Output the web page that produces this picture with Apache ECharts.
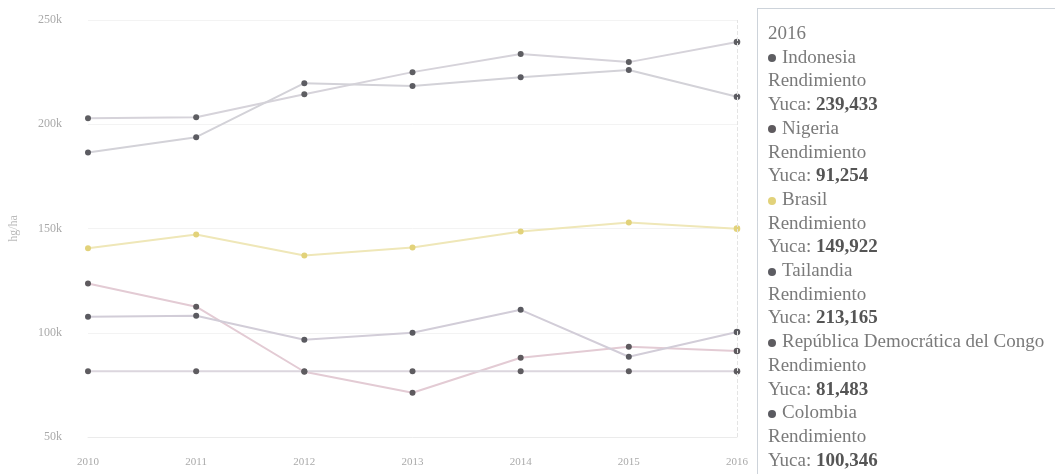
<!DOCTYPE html>
<html>
<head>
<meta charset="utf-8">
<script src="https://cdn.jsdelivr.net/npm/echarts@6/dist/echarts.min.js"></script>
<style>
  html, body { margin: 0; padding: 0; background: #fff; overflow: hidden; }
  #chart-container { width: 1055px; height: 474px; }
</style>
</head>
<body>
<div id="chart-container"></div>
<script>
var years = ['2010', '2011', '2012', '2013', '2014', '2015', '2016'];
var yTicks = [50000, 100000, 150000, 200000, 250000];

// rendimiento de yuca, hg/ha
var indonesia = [202900, 203400, 214400, 225000, 233700, 229800, 239433];
var nigeria = [123600, 112500, 81300, 71200, 88000, 93300, 91254];
var brasil = [140500, 147100, 137000, 140900, 148600, 152900, 149922];
var tailandia = [186500, 193800, 219700, 218300, 222600, 226000, 213165];
var rdc = [81483, 81483, 81483, 81483, 81483, 81483, 81483];
var colombia = [107700, 108200, 96600, 100000, 111000, 88500, 100346];

var seriesNames = ['Indonesia', 'Nigeria', 'Brasil', 'Tailandia', 'República Democrática del Congo', 'Colombia'];
var seriesData = [indonesia, nigeria, brasil, tailandia, rdc, colombia];
var dotColors = ['#5e5e62', '#5e5a5e', '#e2d27a', '#5c5c62', '#5e5c60', '#5a5a60'];
var lineColors = ['#d6d3da', '#e3cbd4', '#efe7b8', '#d3d2d8', '#dcd6de', '#d2cdd8'];

function visualize(container) {
    var chart = echarts.init(container);

    var series = seriesNames.map(function (name, i) {
        return {
            name: name,
            type: 'line',
            data: seriesData[i],
            symbol: 'circle',
            symbolSize: 6,
            itemStyle: { color: dotColors[i] },
            lineStyle: { color: lineColors[i], width: 2 },
            emphasis: { disabled: true }
        };
    });

    chart.setOption({
        animation: false,
        textStyle: { fontFamily: 'Liberation Serif' },
        grid: { left: 88, right: 318, top: 20, bottom: 37 },
        xAxis: {
            type: 'category',
            data: years,
            boundaryGap: false,
            axisLine: { lineStyle: { color: '#ebebeb' } },
            axisTick: { show: false },
            axisLabel: { color: '#aaa', fontSize: 11, margin: 20 }
        },
        yAxis: {
            type: 'value',
            min: yTicks[0],
            max: yTicks[yTicks.length - 1],
            interval: 50000,
            name: 'hg/ha',
            nameLocation: 'middle',
            nameGap: 68,
            nameTextStyle: { color: '#bbb', fontSize: 12 },
            axisLabel: {
                color: '#aaa',
                fontSize: 12,
                margin: 26,
                formatter: function (v) { return (v / 1000) + 'k'; }
            },
            splitLine: { lineStyle: { color: '#f3f3f3' } }
        },
        tooltip: {
            trigger: 'axis',
            triggerOn: 'none',
            alwaysShowContent: true,
            transitionDuration: 0,
            position: [757, 8],
            backgroundColor: '#fff',
            borderColor: '#cdd3da',
            borderWidth: 1,
            padding: [12, 10],
            extraCssText: 'box-shadow:none;border-radius:0;line-height:23.7px;width:320px;white-space:nowrap;',
            textStyle: { fontFamily: 'Liberation Serif', fontSize: 19, color: '#7a7a7a' },
            axisPointer: { type: 'line', lineStyle: { color: '#e4e4e4', width: 1 } },
            formatter: function (params) {
                var html = params[0].axisValue;
                params.forEach(function (p) {
                    html += '<br/><span style="display:inline-block;width:8px;height:8px;border-radius:4px;margin-right:6px;vertical-align:middle;background:' +
                        dotColors[p.seriesIndex] + '"></span>' + p.seriesName +
                        '<br/>Rendimiento<br/>Yuca: <b style="color:#555">' + p.value.toLocaleString('en-US') + '</b>';
                });
                return html;
            }
        },
        series: series
    });

    chart.dispatchAction({ type: 'showTip', seriesIndex: 0, dataIndex: years.length - 1 });
    return chart;
}

visualize(document.getElementById('chart-container'));
</script>
</body>
</html>
